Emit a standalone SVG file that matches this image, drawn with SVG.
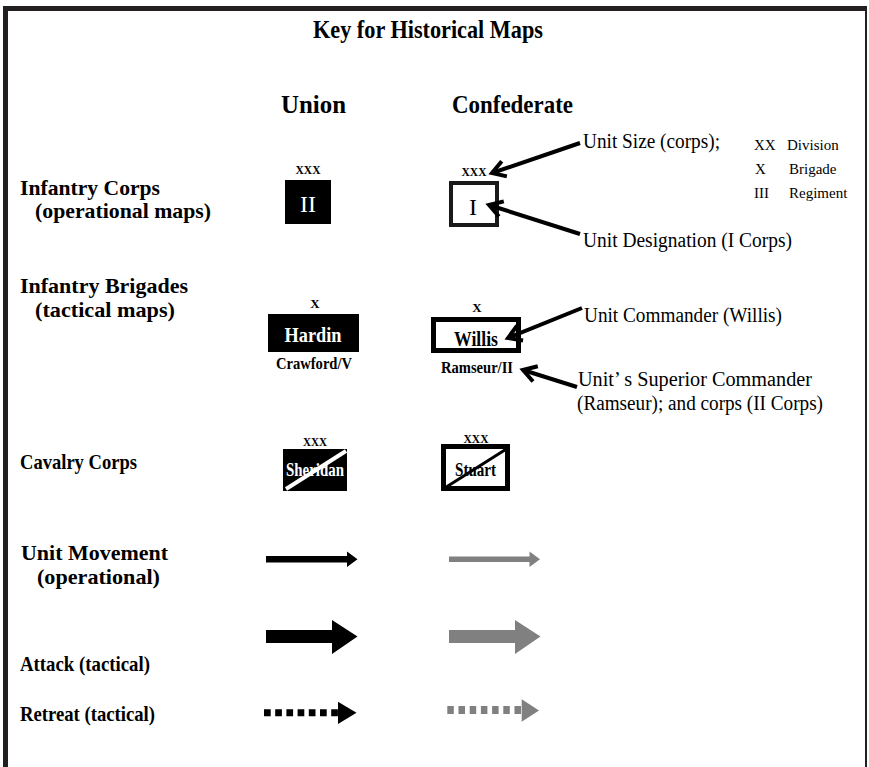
<svg xmlns="http://www.w3.org/2000/svg" width="869" height="767" viewBox="0 0 869 767">
<defs>
<style>
text{font-family:"Liberation Serif","Times New Roman",serif;fill:#000}
.b{font-weight:bold}
.t{font-size:26px;font-weight:bold}
.h{font-size:25px;font-weight:bold}
.lab{font-size:21px;font-weight:bold}
.ann{font-size:20px}
.sm{font-size:15px}
.sz{font-size:13px;font-weight:bold}
.w{fill:#fff}
.ptr{stroke:#000;stroke-width:4;fill:none}
.blk{fill:#000}
.gry{fill:#808080}
</style>
<marker id="chev" markerUnits="userSpaceOnUse" markerWidth="30" markerHeight="30" viewBox="-20 -15 30 30" refX="0" refY="0" orient="auto">
<path d="M-13,-8 L0,0 L-13,8" fill="none" stroke="#000" stroke-width="4"/>
</marker>
</defs>
<rect width="869" height="767" fill="#fff"/>
<g id="frame" fill="#231f20">
<rect x="3" y="6" width="5" height="761"/>
<rect x="3" y="6" width="864" height="5"/>
<rect x="865" y="6" width="2" height="761"/>
</g>
<g id="headings">
<text class="t" x="313" y="38" textLength="230" lengthAdjust="spacingAndGlyphs">Key for Historical Maps</text>
<text class="h" x="281" y="113" textLength="65" lengthAdjust="spacingAndGlyphs">Union</text>
<text class="h" x="452" y="113" textLength="121" lengthAdjust="spacingAndGlyphs">Confederate</text>
</g>
<g id="row-labels" class="lab">
<text x="20" y="195" textLength="140" lengthAdjust="spacingAndGlyphs">Infantry Corps</text>
<text x="35" y="218" textLength="176" lengthAdjust="spacingAndGlyphs">(operational maps)</text>
<text x="20" y="293" textLength="168" lengthAdjust="spacingAndGlyphs">Infantry Brigades</text>
<text x="35" y="317" textLength="140" lengthAdjust="spacingAndGlyphs">(tactical maps)</text>
<text x="20" y="469" textLength="117" lengthAdjust="spacingAndGlyphs">Cavalry Corps</text>
<text x="21" y="560" textLength="147" lengthAdjust="spacingAndGlyphs">Unit Movement</text>
<text x="37" y="584" textLength="123" lengthAdjust="spacingAndGlyphs">(operational)</text>
<text x="20" y="671" textLength="130" lengthAdjust="spacingAndGlyphs">Attack (tactical)</text>
<text x="20" y="721" textLength="135" lengthAdjust="spacingAndGlyphs">Retreat (tactical)</text>
</g>
<g id="union-corps">
<text class="sz" x="308" y="174" text-anchor="middle" textLength="25" lengthAdjust="spacingAndGlyphs">XXX</text>
<rect x="285" y="180" width="46" height="44" fill="#000"/>
<text class="w" x="308" y="212" text-anchor="middle" font-size="24">II</text>
</g>
<g id="confederate-corps">
<text class="sz" x="474" y="176" text-anchor="middle" textLength="25" lengthAdjust="spacingAndGlyphs">XXX</text>
<rect x="451" y="183" width="46" height="42" fill="#fff" stroke="#1a1a1a" stroke-width="4"/>
<text x="473" y="215" text-anchor="middle" font-size="24">I</text>
</g>
<g id="union-brigade">
<text class="sz" x="315" y="308" text-anchor="middle">X</text>
<rect x="268" y="314" width="91" height="38" fill="#000"/>
<text class="b w" x="313" y="342" text-anchor="middle" font-size="22" textLength="57" lengthAdjust="spacingAndGlyphs">Hardin</text>
<text class="b" x="314" y="369" text-anchor="middle" font-size="16" textLength="76" lengthAdjust="spacingAndGlyphs">Crawford/V</text>
</g>
<g id="confederate-brigade">
<text class="sz" x="477" y="312" text-anchor="middle">X</text>
<rect x="433.5" y="319.5" width="85" height="31" fill="#fff" stroke="#000" stroke-width="5"/>
<text class="b" x="476" y="346" text-anchor="middle" font-size="22" textLength="44" lengthAdjust="spacingAndGlyphs">Willis</text>
<text class="b" x="477" y="373" text-anchor="middle" font-size="16" textLength="72" lengthAdjust="spacingAndGlyphs">Ramseur/II</text>
</g>
<g id="union-cavalry">
<text class="sz" x="315" y="446" text-anchor="middle" textLength="24" lengthAdjust="spacingAndGlyphs">XXX</text>
<rect x="283" y="449" width="64" height="42" fill="#000"/>
<text class="b w" x="315" y="476" text-anchor="middle" font-size="18" textLength="58" lengthAdjust="spacingAndGlyphs">Sheridan</text>
<line x1="286" y1="489" x2="346" y2="451" stroke="#fff" stroke-width="4"/>
</g>
<g id="confederate-cavalry">
<text class="sz" x="476" y="443" text-anchor="middle" textLength="25" lengthAdjust="spacingAndGlyphs">XXX</text>
<rect x="443.5" y="446.5" width="64" height="42" fill="#fff" stroke="#000" stroke-width="5"/>
<text class="b" x="475.5" y="476" text-anchor="middle" font-size="18" textLength="41" lengthAdjust="spacingAndGlyphs">Stuart</text>
<line x1="446.7" y1="486.7" x2="506" y2="449.3" stroke="#000" stroke-width="3"/>
</g>
<g id="annotations">
<text class="ann" x="583" y="148" textLength="137" lengthAdjust="spacingAndGlyphs">Unit Size (corps);</text>
<text class="ann" x="583" y="247" textLength="209" lengthAdjust="spacingAndGlyphs">Unit Designation (I Corps)</text>
<text class="ann" x="584" y="322" textLength="198" lengthAdjust="spacingAndGlyphs">Unit Commander (Willis)</text>
<text class="ann" x="578" y="386" textLength="234" lengthAdjust="spacingAndGlyphs">Unit’ s Superior Commander</text>
<text class="ann" x="577" y="410" textLength="246" lengthAdjust="spacingAndGlyphs">(Ramseur); and corps (II Corps)</text>
<text class="sm" x="754" y="150">XX</text>
<text class="sm" x="787" y="150">Division</text>
<text class="sm" x="755" y="174">X</text>
<text class="sm" x="789" y="174">Brigade</text>
<text class="sm" x="754" y="198">III</text>
<text class="sm" x="789" y="198">Regiment</text>
</g>
<g id="connectors">
<line class="ptr" x1="580" y1="143" x2="492" y2="173" marker-end="url(#chev)"/>
<line class="ptr" x1="580" y1="234" x2="489" y2="205" marker-end="url(#chev)"/>
<line class="ptr" x1="582" y1="308" x2="508" y2="338" marker-end="url(#chev)"/>
<line class="ptr" x1="577" y1="387" x2="523" y2="370" marker-end="url(#chev)"/>
</g>
<g id="movement-arrows">
<path class="blk" d="M266,556 H347 V551.5 L357.5,559.3 L347,567 V562.5 H266 Z"/>
<path class="gry" d="M449,556.5 H529.5 V551.5 L540,559.3 L529.5,567 V562 H449 Z"/>
<path class="blk" d="M266,630 H332 V620 L357.5,636.5 L332,654 V643 H266 Z"/>
<path class="gry" d="M449,630 H515 V620 L540.5,636.5 L515,654 V643 H449 Z"/>
<line x1="264" y1="712.7" x2="338" y2="712.7" stroke="#000" stroke-width="7" stroke-dasharray="6.7 4.5"/>
<path class="blk" d="M338,701.7 L356.5,712.7 L338,724 Z"/>
<line x1="447.3" y1="710" x2="522" y2="710" stroke="#808080" stroke-width="8" stroke-dasharray="6.5 4.7"/>
<path class="gry" d="M521.7,699.3 L539,710.5 L521.7,721.7 Z"/>
</g>
</svg>
